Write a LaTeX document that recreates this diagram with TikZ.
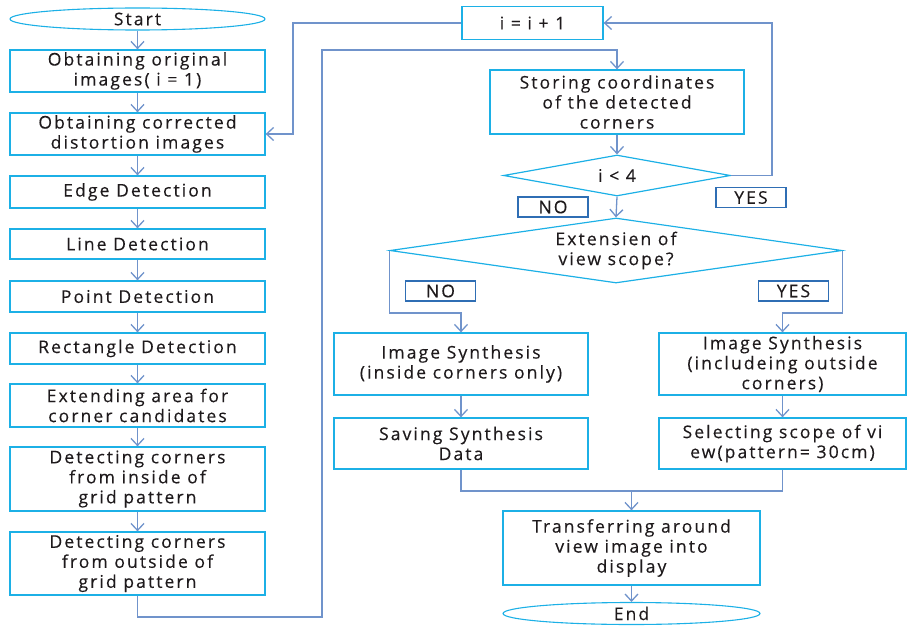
\documentclass[tikz,border=0pt]{standalone}
\usepackage{fontspec}
\setmainfont{Open Sans}[LetterSpace=12,FakeBold=0.3]
\usetikzlibrary{shapes.geometric,arrows.meta}
\definecolor{boxc}{HTML}{1CB0E6}
\definecolor{connc}{HTML}{7093CB}
\definecolor{labc}{HTML}{2F6EB4}
\definecolor{txtc}{HTML}{1E1A1C}
\begin{document}
\begin{tikzpicture}[x=1pt,y=-1pt,
  every node/.style={font=\fontsize{17.5}{20}\selectfont, text=txtc},
  pbox/.style={draw=boxc, line width=1.3pt, rectangle, align=center, inner sep=0pt},
  term/.style={draw=boxc, line width=1.1pt, ellipse, inner sep=0pt},
  dec/.style={draw=boxc, line width=1.2pt, diamond, align=center, inner sep=0pt},
  lab/.style={draw=labc, line width=1.2pt, rectangle, inner sep=0pt, minimum width=70pt, minimum height=20pt},
  conn/.style={draw=connc, line width=1.3pt},
  arr/.style={conn, -{Straight Barb[length=7pt,width=13pt,line width=1.3pt]}}
]
\useasboundingbox (0,0) rectangle (908,626);
% left column
\node[term, minimum width=255pt, minimum height=22pt] (start) at (137.5,19) {Start};
\node[pbox, minimum width=255pt, minimum height=42pt] (o1) at (137.5,71) {Obtaining original\\images( i = 1)};
\node[pbox, minimum width=255pt, minimum height=42pt] (o2) at (137.5,134) {Obtaining corrected\\distortion images};
\node[pbox, minimum width=255pt, minimum height=32pt] (edge) at (137.5,192) {Edge Detection};
\node[pbox, minimum width=255pt, minimum height=30pt] (line) at (137.5,244) {Line Detection};
\node[pbox, minimum width=255pt, minimum height=31pt] (point) at (137.5,296.5) {Point Detection};
\node[pbox, minimum width=255pt, minimum height=31pt] (rect) at (137.5,348.5) {Rectangle Detection};
\node[pbox, minimum width=255pt, minimum height=43pt] (ext) at (137.5,405.5) {Extending area for\\corner candidates};
\node[pbox, minimum width=255pt, minimum height=64pt] (din) at (137.5,479) {Detecting corners\\from inside of\\grid pattern};
\node[pbox, minimum width=255pt, minimum height=63pt] (dout) at (137.5,563.5) {Detecting corners\\from outside of\\grid pattern};
% right part
\node[pbox, minimum width=141pt, minimum height=33pt] (inc) at (532.5,23) {i = i + 1};
\node[pbox, minimum width=254pt, minimum height=64pt] (stor) at (617,102) {Storing coordinates\\of the detected\\corners};
\node[dec, shape aspect=5.5, minimum width=227pt, minimum height=41pt] (d1) at (617,175.5) {i < 4};
\node[lab] (no1) at (553,207) {NO};
\node[lab] (yes1) at (751,197.5) {YES};
\node[dec, shape aspect=7, minimum width=452pt, minimum height=65pt] (d2) at (616,250.5) {Extensien of\\view scope?};
\node[lab] (no2) at (440.5,291) {NO};
\node[lab] (yes2) at (793.5,291) {YES};
\node[pbox, minimum width=254pt, minimum height=62pt] (isl) at (461,364) {Image Synthesis\\(inside corners only)};
\node[pbox, minimum width=247pt, minimum height=62pt] (isr) at (782.5,364) {Image Synthesis\\(includeing outside\\corners)};
\node[pbox, minimum width=254pt, minimum height=51pt] (sav) at (461,443.5) {Saving Synthesis\\Data};
\node[pbox, minimum width=247pt, minimum height=51pt] (sel) at (782.5,443.5) {Selecting scope of vi\\ew(pattern= 30cm)};
\node[pbox, minimum width=257pt, minimum height=74pt] (tr) at (631.5,548) {Transferring around\\view image into\\display};
\node[term, minimum width=257pt, minimum height=22pt] (end) at (631.5,613.5) {End};
% coordinates
\coordinate (lb) at (322,617);
\coordinate (lt) at (322,50);
\coordinate (lp) at (293,134);
\coordinate (yc) at (772,175.5);
\coordinate (lm) at (461,313);
\coordinate (rm) at (782.5,313);
\coordinate (mm) at (631.5,491);
% left chain
\draw[arr] (start) -- (o1);
\draw[arr] (o1) -- (o2);
\draw[arr] (o2) -- (edge);
\draw[arr] (edge) -- (line);
\draw[arr] (line) -- (point);
\draw[arr] (point) -- (rect);
\draw[arr] (rect) -- (ext);
\draw[arr] (ext) -- (din);
\draw[arr] (din) -- (dout);
% big loop to storing
\draw[arr] (dout.south) |- (lb) -- (lt) -| (stor.north);
% i=i+1 back to corrected
\draw[arr] (inc.west) -| (lp) -- (o2.east);
% decisions
\draw[arr] (stor) -- (d1);
\draw[arr] (d1.south) -- (d2.north);
\draw[arr] (d1.east) -- (yc) |- (inc.east);
\draw[arr] (d2.west) |- (lm) -- (isl.north);
\draw[arr] (d2.east) |- (rm) -- (isr.north);
\draw[arr] (isl) -- (sav);
\draw[arr] (isr) -- (sel);
\draw[conn] (sav.south) |- (mm);
\draw[conn] (sel.south) |- (mm);
\draw[arr] (mm) -- (tr.north);
\draw[arr] (tr) -- (end);
\end{tikzpicture}
\end{document}
